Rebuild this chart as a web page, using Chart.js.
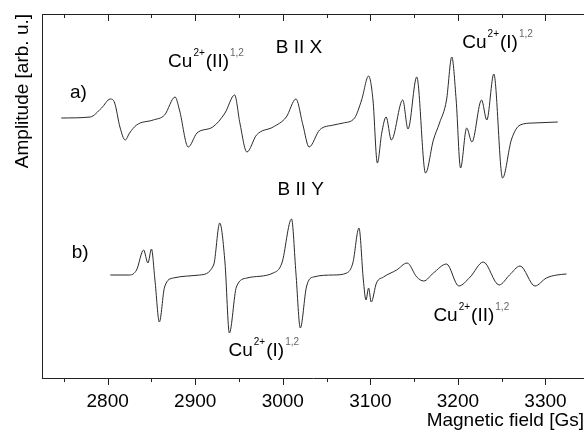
<!DOCTYPE html>
<html>
<head>
<meta charset="utf-8">
<script src="https://cdn.jsdelivr.net/npm/chart.js@4.4.1/dist/chart.umd.min.js"></script>
<style>
  body { margin: 0; background: #fff; }
  #wrap { width: 584px; height: 432px; }
</style>
</head>
<body>
<div id="wrap"><canvas id="epr" width="584" height="432"></canvas></div>
<script>
// spectrum a) B || X
const fieldA = [2747, 2780, 2793, 2803, 2808, 2814, 2820, 2825, 2833, 2852, 2865, 2877, 2882, 2892, 2902, 2920, 2934,
  2945, 2951, 2959, 2970, 2989, 3004, 3015, 3023, 3030, 3042, 3058, 3069, 3082, 3090, 3098, 3103, 3108, 3113,
  3118, 3124, 3137, 3143, 3153, 3163, 3172, 3179, 3187, 3193, 3198, 3203, 3210, 3216, 3227, 3233, 3241, 3251,
  3261, 3271, 3286, 3314];
const ampA = [260, 261, 270, 279, 275, 251, 238, 245, 253, 258, 263, 281, 268, 231, 245, 251, 265,
  283, 255, 226, 243, 251, 261, 279, 253, 231, 248, 253, 255, 260, 278, 302, 278, 215, 245,
  261, 238, 278, 249, 301, 205, 238, 255, 278, 321, 278, 210, 250, 236, 278, 258, 304, 200,
  238, 253, 255, 256];

// spectrum b) B || Y
const fieldB = [2803, 2825, 2833, 2841, 2846, 2850, 2854, 2859, 2865, 2875, 2905, 2921, 2928, 2934, 2939, 2947,
  2959, 2989, 2999, 3010, 3015, 3020, 3027, 3035, 3058, 3073, 3080, 3087, 3092, 3095, 3098, 3101, 3107,
  3115, 3130, 3142, 3153, 3161, 3172, 3187, 3201, 3214, 3229, 3247, 3259, 3271, 3288, 3301, 3313, 3324];
const ampB = [103, 103, 108, 128, 115, 129, 98, 56, 91, 100, 103, 113, 155, 115, 45, 91,
  100, 105, 115, 159, 105, 50, 91, 101, 103, 105, 115, 150, 98, 78, 90, 76, 95,
  101, 108, 115, 101, 97, 105, 114, 92, 101, 116, 93, 103, 112, 92, 100, 103, 104];

const majorTicks = [2800, 2900, 3000, 3100, 3200, 3300];
const minorTicks = [2750, 2850, 2950, 3050, 3150, 3250];

const FONT = 'Liberation Sans, Arial, sans-serif';

// text in the plot: [kind, text], n = normal, s = superscript, g = grey superscript
const notes = [
  { x: 2757, y: 280, parts: [['n', 'a)']] },
  { x: 2759, y: 120, parts: [['n', 'b)']] },
  { x: 2992, y: 325, parts: [['n', 'B II X']] },
  { x: 2994, y: 183, parts: [['n', 'B II Y']] },
  { x: 2869, y: 311, parts: [['n', 'Cu'], ['s', '2+'], ['n', '(II)'], ['g', '1,2']] },
  { x: 3205, y: 330, parts: [['n', 'Cu'], ['s', '2+'], ['n', '(I)'], ['g', '1,2']] },
  { x: 2938, y: 22, parts: [['n', 'Cu'], ['s', '2+'], ['n', '(I)'], ['g', '1,2']] },
  { x: 3172, y: 57, parts: [['n', 'Cu'], ['s', '2+'], ['n', '(II)'], ['g', '1,2']] }
];

function toPoints (xs, ys) {
  return xs.map((x, i) => ({ x: x, y: ys[i] }));
}

const frameAndNotes = {
  id: 'frameAndNotes',
  afterDraw (chart) {
    const ctx = chart.ctx;
    const area = chart.chartArea;
    const sx = chart.scales.x;
    const sy = chart.scales.y;
    ctx.save();
    ctx.strokeStyle = '#222';
    ctx.lineWidth = 1;
    ctx.beginPath();
    ctx.moveTo(area.left, area.top + 0.5);
    ctx.lineTo(area.right, area.top + 0.5);
    const drawTick = (v, len) => {
      const px = Math.round(sx.getPixelForValue(v)) + 0.5;
      ctx.moveTo(px, area.top);
      ctx.lineTo(px, area.top + len);
      ctx.moveTo(px, area.bottom);
      ctx.lineTo(px, area.bottom + len);
    };
    majorTicks.forEach(v => drawTick(v, 7));
    minorTicks.forEach(v => drawTick(v, 4));
    ctx.stroke();

    ctx.textBaseline = 'alphabetic';
    ctx.textAlign = 'left';
    notes.forEach(note => {
      let px = sx.getPixelForValue(note.x);
      const py = sy.getPixelForValue(note.y);
      note.parts.forEach(([kind, text]) => {
        if (kind === 'n') {
          ctx.font = '19px ' + FONT;
          ctx.fillStyle = '#000';
          ctx.fillText(text, px, py);
        } else {
          ctx.font = '10px ' + FONT;
          ctx.fillStyle = kind === 'g' ? '#666' : '#000';
          ctx.fillText(text, px + 1, py - 11);
          px += 2;
        }
        px += ctx.measureText(text).width;
      });
    });
    ctx.restore();
  }
};

new Chart(document.getElementById('epr').getContext('2d'), {
  type: 'line',
  data: {
    datasets: [{
      label: 'a) B || X',
      data: toPoints(fieldA, ampA),
      borderColor: '#2a2a2a',
      borderWidth: 1,
      pointRadius: 0,
      cubicInterpolationMode: 'monotone'
    }, {
      label: 'b) B || Y',
      data: toPoints(fieldB, ampB),
      borderColor: '#2a2a2a',
      borderWidth: 1,
      pointRadius: 0,
      cubicInterpolationMode: 'monotone'
    }]
  },
  options: {
    responsive: false,
    animation: false,
    layout: { padding: { top: 14, right: 0, bottom: 0, left: 0 } },
    plugins: {
      legend: { display: false },
      tooltip: { enabled: false }
    },
    scales: {
      x: {
        type: 'linear',
        min: 2725,
        max: 3344,
        grid: { display: false },
        border: { display: true, color: '#222', width: 1 },
        ticks: {
          stepSize: 100,
          includeBounds: false,
          maxRotation: 0,
          autoSkip: false,
          padding: 4,
          color: '#000',
          font: { size: 19, family: FONT },
          callback: v => String(v)
        },
        title: {
          display: true,
          text: 'Magnetic field [Gs]',
          align: 'end',
          color: '#000',
          padding: { top: 0, bottom: 0 },
          font: { size: 19, family: FONT }
        },
        afterFit (scale) { scale.height = 54; }
      },
      y: {
        min: 0,
        max: 364,
        grid: { display: false },
        border: { display: true, color: '#222', width: 1 },
        ticks: { display: false },
        title: {
          display: true,
          text: 'Amplitude [arb. u.]',
          align: 'end',
          color: '#000',
          padding: { top: 11, bottom: 0 },
          font: { size: 19, family: FONT }
        },
        afterFit (scale) { scale.width = 42; }
      }
    }
  },
  plugins: [frameAndNotes]
});
</script>
</body>
</html>
